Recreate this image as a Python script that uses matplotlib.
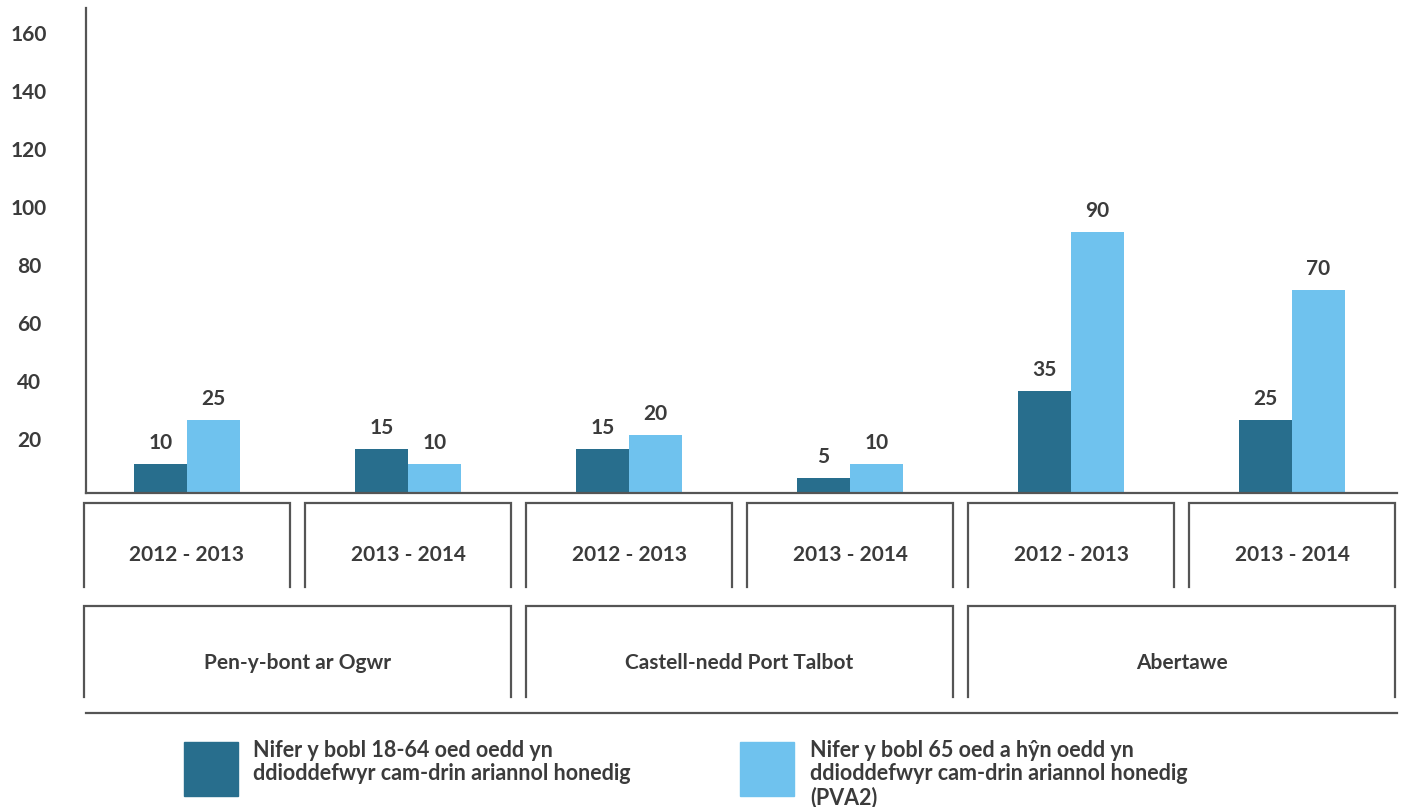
import matplotlib
matplotlib.use("Agg")
import matplotlib.pyplot as plt
from matplotlib.patches import Rectangle
from matplotlib.transforms import blended_transform_factory, offset_copy
import numpy as np

plt.rcParams['font.family'] = ['Lato', 'DejaVu Sans']
plt.rcParams['font.weight'] = 'bold'

years = ["2012 - 2013", "2013 - 2014", "2012 - 2013", "2013 - 2014", "2012 - 2013", "2013 - 2014"]
regions = ["Pen-y-bont ar Ogwr", "Castell-nedd Port Talbot", "Abertawe"]
series_names = ["Nifer y bobl 18-64 oed oedd yn\nddioddefwyr cam-drin ariannol honedig",
                "Nifer y bobl 65 oed a hŷn oedd yn\nddioddefwyr cam-drin ariannol honedig\n(PVA2)"]
age_18_64 = [10, 15, 15, 5, 35, 25]
age_65_plus = [25, 10, 20, 10, 90, 70]
y_ticks = [20, 40, 60, 80, 100, 120, 140, 160]

DARK = "#286e8d"
LIGHT = "#6fc2ee"
TXT = "#3b3b3b"
LINE = "#555555"

W, H = 1402, 807
fig = plt.figure(figsize=(W / 100, H / 100), dpi=100)
ax = fig.add_axes([86 / W, (H - 493) / H, (1397 - 86) / W, (493 - 8) / H])

x = np.arange(len(years))
bw = 0.24
b1 = ax.bar(x - bw / 2, age_18_64, bw, color=DARK)
b2 = ax.bar(x + bw / 2, age_65_plus, bw, color=LIGHT)
for bars, vals in ((b1, age_18_64), (b2, age_65_plus)):
    for r, v in zip(bars, vals):
        ax.annotate(str(v), (r.get_x() + r.get_width() / 2, r.get_height()),
                    xytext=(0, 8), textcoords="offset points", ha="center", va="bottom",
                    fontsize=15, color=TXT, fontweight="bold")

ax.set_xlim(-0.457, 5.475)
ax.set_ylim(0, 167.2)
ax.set_yticks(y_ticks)
ax.set_yticklabels([str(t) for t in y_ticks], fontsize=15, color=TXT, fontweight="bold")
ax.tick_params(axis="y", length=0, pad=41)
for lab in ax.get_yticklabels():
    lab.set_horizontalalignment("center")
    lab.set_transform(offset_copy(lab.get_transform(), fig=fig, x=0, y=-3, units="points"))
ax.set_xticks([])
for s in ("top", "right"):
    ax.spines[s].set_visible(False)
for s in ("left", "bottom"):
    ax.spines[s].set_color(LINE)
    ax.spines[s].set_linewidth(1.6)

# category boxes below axis (x in data, y in axes fraction)
tr = blended_transform_factory(ax.transData, ax.transAxes)
half = 0.464
r1_top, r1_bot = -0.0206, -0.1938
r2_top, r2_bot = -0.233, -0.4206
line_y = -0.4536

def open_box(x0, x1, ytop, ybot):
    ax.plot([x0, x0, x1, x1], [ybot, ytop, ytop, ybot], transform=tr, clip_on=False,
            color=LINE, lw=1.6, solid_joinstyle="miter")

for i, lab in enumerate(years):
    open_box(i - half, i + half, r1_top, r1_bot)
    ax.text(i, (r1_top + r1_bot) / 2 - 0.02, lab, transform=tr, ha="center", va="center",
            fontsize=15, color=TXT, fontweight="bold")

for j, reg in enumerate(regions):
    x0 = 2 * j - half
    x1 = 2 * j + 1 + half
    open_box(x0, x1, r2_top, r2_bot)
    ax.text((x0 + x1) / 2, (r2_top + r2_bot) / 2 - 0.023, reg, transform=tr, ha="center",
            va="center", fontsize=15, color=TXT, fontweight="bold")

ax.plot([-0.457, 5.475], [line_y, line_y], transform=tr, clip_on=False, color=LINE, lw=1.6)

# legend
for (lx, tx), col, name in zip(((184, 253), (740, 810)), (DARK, LIGHT), series_names):
    fig.patches.append(Rectangle((lx / W, (H - 796) / H), 54 / W, 54 / H,
                                 transform=fig.transFigure, color=col))
    fig.text(tx / W, (H - 740) / H, name, ha="left", va="top", fontsize=15.5,
             color=TXT, fontweight="bold", linespacing=1.13)

fig.savefig("out.png", dpi=100)
